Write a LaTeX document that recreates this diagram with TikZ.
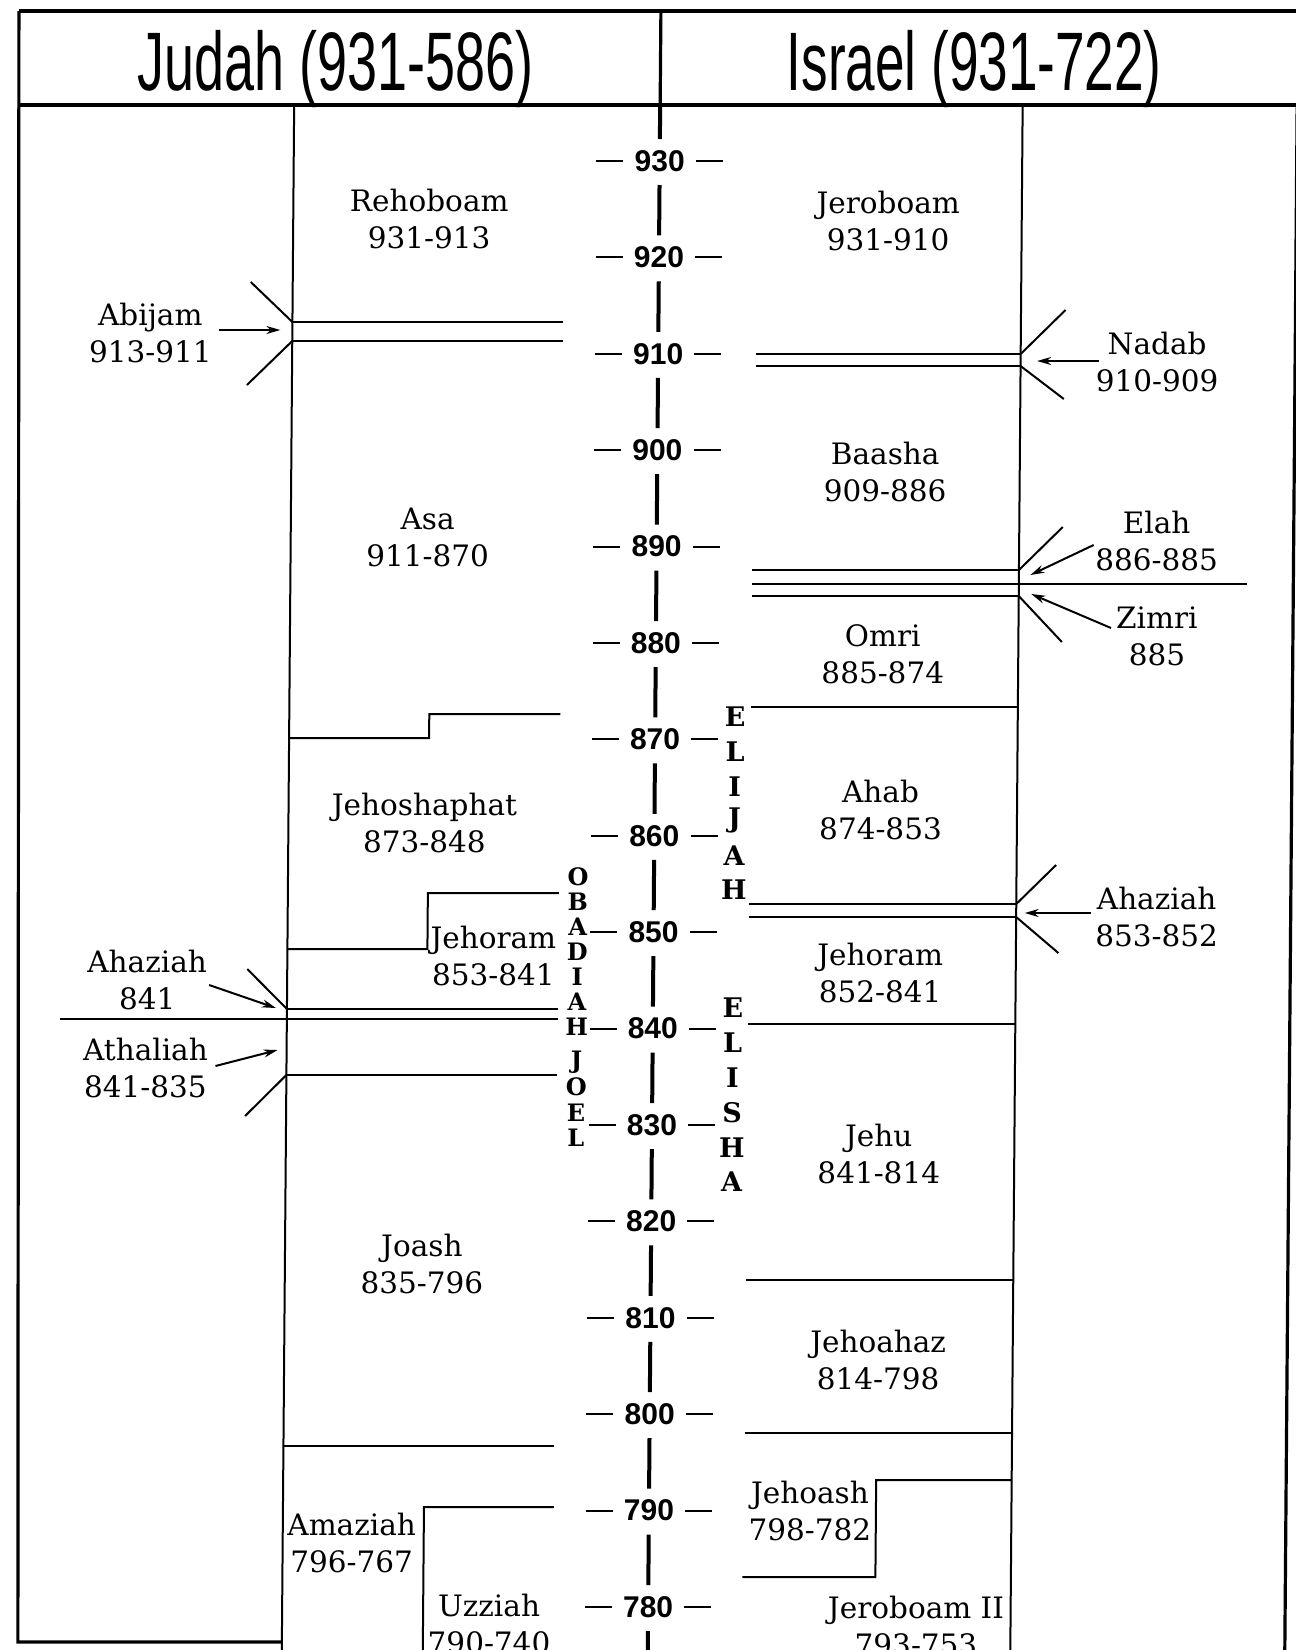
\documentclass[tikz,border=0pt]{standalone}
\usepackage{fontspec}
\usepackage{graphicx}
\setmainfont{DejaVu Serif}
\newfontfamily\headfont{Liberation Sans}
\newfontfamily\yearfont{Liberation Sans}
\usetikzlibrary{arrows.meta,positioning,calc}

\begin{document}
\begin{tikzpicture}[x=1pt,y=-1pt,
      frame/.style={line width=3.2pt},
      rule/.style={line width=2pt},
      spine/.style={line width=4pt},
      pointer/.style={line width=2pt,-{Stealth[length=14pt,width=8pt]}},
      king/.style={align=center,inner sep=0pt,font=\fontsize{29.5}{37}\selectfont},
      seer/.style={inner sep=0pt,font=\bfseries\fontsize{27}{27}\selectfont},
      minor seer/.style={inner sep=0pt,font=\bfseries\fontsize{24}{24}\selectfont},
      yearlab/.style={inner sep=0pt,font=\yearfont\bfseries\fontsize{30}{30}\selectfont},
      kingdom/.style={inner sep=0pt,anchor=base,font=\headfont\fontsize{83}{90}\selectfont}]
  \useasboundingbox (0,0) rectangle (1296,1650);
  \begin{scope}[xslant=0.008]
  % frame and header
  \draw[frame] (19,11) -- (1300,11);
  \draw[frame] (19,105) -- (1300,105);
  \draw[frame] (19,11) -- (31,1642) -- (295,1642);
  \draw[frame] (661,11) -- (661,105);
  \draw[frame] (1298,105) -- (1298,1650);
  \node[kingdom] (judah) at (336,90) {\scalebox{0.65}[1]{Judah (931-586)}};
  \node[kingdom] (israel) at (975,90) {\scalebox{0.64}[1]{Israel (931-722)}};

  % the two columns of kings
  \draw[rule] (295,105) -- (295,1650);
  \draw[rule] (1023.5,105) -- (1023.5,1650);

  % time line
  \foreach \yr [count=\i from 0] in {930,920,...,780}{
    \node[yearlab] (y\yr) at (661,{161+\i*96.4}) {\yr};
    \draw[rule] ($(y\yr.west)+(-11,0)$) -- ++(-27,0);
    \draw[rule] ($(y\yr.east)+(11,0)$) -- ++(27,0);
  }
  \foreach \i in {0,...,14}
    \draw[spine] (661,{185+\i*96.4}) -- (661,{235.4+\i*96.4});
  \draw[spine] (661,105) -- (661,139);
  \draw[spine] (661,1631) -- (661,1650);

  % prophets
  \foreach \ch [count=\i from 0] in {E,L,I,J,A,H}
    \node[seer] (elijah\i) at (741,{717+\i*34.6}) {\ch};
  \foreach \ch [count=\i from 0] in {E,L,I,S,H,A}
    \node[seer] (elisha\i) at (741,{1008+\i*34.8}) {\ch};
  \foreach \ch [count=\i from 0] in {O,B,A,D,I,A,H}
    \node[minor seer] (obadiah\i) at (585,{877+\i*24.9}) {\ch};
  \foreach \ch [count=\i from 0] in {J,O,E,L}
    \node[minor seer] (joel\i) at (585,{1062+\i*25.2}) {\ch};

  % Judah reigns
  \draw[rule] (295,322) -- (566,322);
  \draw[rule] (295,341) -- (566,341);
  \draw[rule] (295,738) -- (435,738) -- (435,714) -- (566,714);
  \draw[rule] (295,949) -- (435,949) -- (435,893) -- (566,893);
  \draw[rule] (295,1009) -- (566,1009);
  \draw[rule] (68,1019) -- (566,1019);
  \draw[rule] (295,1075) -- (566,1075);
  \draw[rule] (295,1446) -- (566,1446);
  \draw[rule] (566,1507) -- (436,1507) -- (436,1650);
  \draw[rule] (253,282) -- (295,322) (295,341) -- (250,385);
  \draw[rule] (255,969) -- (295,1009) (295,1075) -- (254,1116);

  % Israel reigns
  \draw[rule] (759,354) -- (1023.5,354);
  \draw[rule] (759,366) -- (1023.5,366);
  \draw[rule] (757,570) -- (1023.5,570);
  \draw[rule] (757,584) -- (1252,584);
  \draw[rule] (757,596) -- (1023.5,596);
  \draw[rule] (757,707) -- (1023.5,707);
  \draw[rule] (756,904) -- (1023.5,904);
  \draw[rule] (756,917) -- (1023.5,917);
  \draw[rule] (756,1024) -- (1023.5,1024);
  \draw[rule] (756,1280) -- (1023.5,1280);
  \draw[rule] (756,1433) -- (1023.5,1433);
  \draw[rule] (1023.5,1480) -- (888,1480) -- (888,1577) -- (755,1577);
  \draw[rule] (1068,310) -- (1023.5,354) (1023.5,366) -- (1067,399);
  \draw[rule] (1067,527) -- (1023.5,570) (1023.5,596) -- (1067,642);
  \draw[rule] (1063,865) -- (1023.5,904) (1023.5,917) -- (1066,953);

  % kings of Judah
  \node[king] (rehoboam) at (431,219) {Rehoboam\\931-913};
  \node[king] (abijam) at (153,333) {Abijam\\913-911};
  \node[king] (asa) at (432,537) {Asa\\911-870};
  \node[king] (jehoshaphat) at (431,823) {Jehoshaphat\\873-848};
  \node[king] (jehoramJ) at (501,956) {Jehoram\\853-841};
  \node[king] (ahaziahJ) at (155,980) {Ahaziah\\841};
  \node[king] (athaliah) at (154,1068) {Athaliah\\841-835};
  \node[king] (joash) at (432,1264) {Joash\\835-796};
  \node[king] (amaziah) at (364,1543) {Amaziah\\796-767};
  \node[king] (uzziah) at (502,1624) {Uzziah\\790-740};

  % kings of Israel
  \node[king] (jeroboam) at (890,221) {Jeroboam\\931-910};
  \node[king] (nadab) at (1160,362) {Nadab\\910-909};
  \node[king] (baasha) at (889,472) {Baasha\\909-886};
  \node[king] (elah) at (1161,541) {Elah\\886-885};
  \node[king] (zimri) at (1162,636) {Zimri\\885};
  \node[king] (omri) at (888,654) {Omri\\885-874};
  \node[king] (ahab) at (887,810) {Ahab\\874-853};
  \node[king] (ahaziahI) at (1164,917) {Ahaziah\\853-852};
  \node[king] (jehoramI) at (888,973) {Jehoram\\852-841};
  \node[king] (jehu) at (888,1154) {Jehu\\841-814};
  \node[king] (jehoahaz) at (889,1360) {Jehoahaz\\814-798};
  \node[king] (jehoash) at (822,1511) {Jehoash\\798-782};
  \node[king] (jeroboamII) at (929,1626) {Jeroboam II\\793-753};

  % short reigns pointed at
  \coordinate (abijam tail) at (222,330);    \coordinate (abijam head) at (283,330);
  \coordinate (nadab tail) at (1102,361);    \coordinate (nadab head) at (1040,361);
  \coordinate (elah tail) at (1098,545);     \coordinate (elah head) at (1035,575);
  \coordinate (zimri tail) at (1116,628);    \coordinate (zimri head) at (1036,594);
  \coordinate (ahaziahI tail) at (1098,913); \coordinate (ahaziahI head) at (1032,913);
  \coordinate (ahaziahJ tail) at (217,985);  \coordinate (ahaziahJ head) at (284,1008);
  \coordinate (athaliah tail) at (224,1066); \coordinate (athaliah head) at (286,1050);
  \foreach \k in {abijam,nadab,elah,zimri,ahaziahI,ahaziahJ,athaliah}
    \draw[pointer] (\k\space tail) -- (\k\space head);
  \end{scope}
\end{tikzpicture}
\end{document}
